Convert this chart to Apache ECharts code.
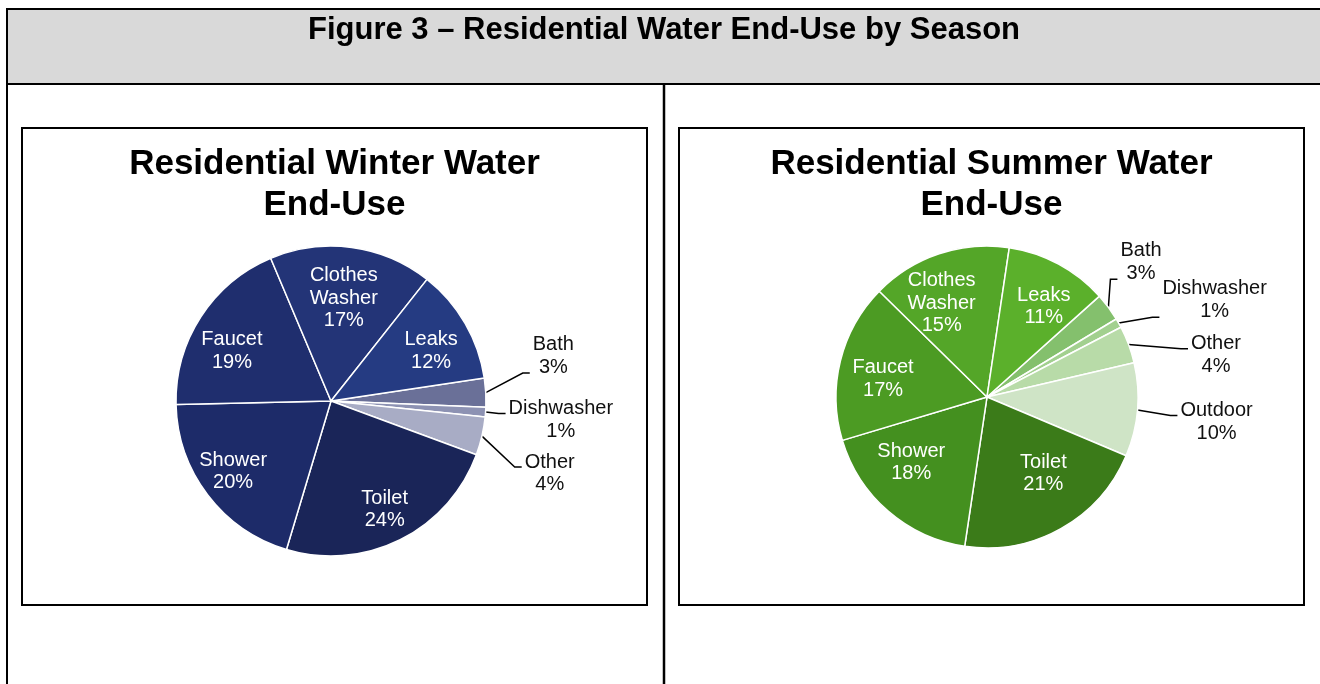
<!DOCTYPE html>
<html>
<head>
<meta charset="utf-8">
<script src="https://cdn.jsdelivr.net/npm/echarts@6/dist/echarts.min.js"></script>
<style>
  html, body { margin: 0; padding: 0; background: #fff; }
  #chart { width: 1320px; height: 684px; }
</style>
</head>
<body>
<div id="chart"></div>
<script>
// ---- Data ----
const figureTitle = 'Figure 3 \u2013 Residential Water End-Use by Season';
const winterTitle = 'Residential Winter Water\nEnd-Use';
const summerTitle = 'Residential Summer Water\nEnd-Use';

const winterCategories = ['Bath', 'Dishwasher', 'Other', 'Toilet', 'Shower', 'Faucet', 'Clothes Washer', 'Leaks'];
const winterValues = [3, 1, 4, 24, 20, 19, 17, 12];
const winterOutside = ['Bath', 'Dishwasher', 'Other'];

const summerCategories = ['Bath', 'Dishwasher', 'Other', 'Outdoor', 'Toilet', 'Shower', 'Faucet', 'Clothes Washer', 'Leaks'];
const summerValues = [3, 1, 4, 10, 21, 18, 17, 15, 11];
const summerOutside = ['Bath', 'Dishwasher', 'Other', 'Outdoor'];

// ---- Styles / layout tweaks (not data) ----
const winterColors = ['#6a7098', '#8d92b3', '#a8acc5', '#1a2558', '#1d2b69', '#1f2e6e', '#233477', '#253b82'];
const summerColors = ['#84c06d', '#a2d08f', '#b8dba8', '#cfe4c6', '#3b7b19', '#44901f', '#4c9b23', '#54a628', '#5bb02b'];
// nudges of data labels, like Excel's manual label placement
const winterLabelNudge = {
  Bath: [24, -36], Dishwasher: [0, 7], Other: [20, 35],
  'Clothes Washer': [-3, 14], Faucet: [0, 14], Leaks: [-2, 9], Shower: [-4, -1], Toilet: [1, 3]
};
const summerLabelNudge = {
  Bath: [-9, -39], Dishwasher: [22, -18], Other: [40, 14], Outdoor: [20, 11],
  'Clothes Washer': [-12, 6], Leaks: [7, 2], Faucet: [-2, 7], Shower: [-7, -14], Toilet: [5, -15]
};

const FONT = '"Liberation Sans", Arial, sans-serif';
const LABEL_SIZE = 20;
const LABEL_LH = 22.5;

function buildData(cats, vals, colors, outsideList, inside) {
  return cats.map((name, i) => {
    const isOut = outsideList.indexOf(name) >= 0;
    const showLabel = inside ? !isOut : isOut;
    return {
      name: name,
      value: vals[i],
      itemStyle: inside
        ? { color: 'rgba(0,0,0,0)', borderWidth: 0 }
        : { color: colors[i], borderColor: '#ffffff', borderWidth: 1.5 },
      label: { show: showLabel },
      labelLine: { show: !inside && isOut }
    };
  });
}

function mainSeries(cats, vals, colors, outsideList, nudge, center, radius, startAngle) {
  return {
    type: 'pie',
    center: center,
    radius: [0, radius],
    startAngle: startAngle,
    clockwise: true,
    avoidLabelOverlap: false,
    silent: true,
    data: buildData(cats, vals, colors, outsideList, false),
    label: {
      position: 'outside',
      formatter: p => '{t|' + p.name + '}\n{t|' + p.value + '%}',
      rich: {
        t: { align: 'center', fontSize: LABEL_SIZE, lineHeight: LABEL_LH, color: '#111', fontFamily: FONT }
      }
    },
    labelLine: {
      length: 10,
      length2: 8,
      smooth: false,
      lineStyle: { color: '#000', width: 1.5 }
    },
    labelLayout: function (params) {
      const n = nudge[cats[params.dataIndex]];
      const pts = params.labelLinePoints;
      if (!n || !pts) return {};
      const r = params.labelRect;
      const left = r.x + n[0];
      const top = r.y + n[1];
      const h = r.height;
      const p0 = pts[0];
      const attachY = Math.min(Math.max(p0[1], top + 0.35 * h), top + 0.9 * h);
      const end = [left - 3, attachY];
      const mid = [end[0] - 7, attachY];
      return { dx: n[0], dy: n[1], labelLinePoints: [p0, mid, end] };
    }
  };
}

function labelSeries(cats, vals, outsideList, nudge, center, r0, radius, startAngle) {
  return {
    type: 'pie',
    center: center,
    radius: [r0, radius],
    startAngle: startAngle,
    clockwise: true,
    silent: true,
    avoidLabelOverlap: false,
    z: 5,
    data: buildData(cats, vals, null, outsideList, true),
    label: {
      position: 'inside',
      formatter: p => p.name.split(' ').join('\n') + '\n' + p.value + '%',
      color: '#ffffff',
      fontSize: LABEL_SIZE,
      lineHeight: LABEL_LH,
      fontFamily: FONT
    },
    labelLine: { show: false },
    labelLayout: function (params) {
      const n = nudge[cats[params.dataIndex]];
      return n ? { dx: n[0], dy: n[1] } : {};
    }
  };
}

const chart = echarts.init(document.getElementById('chart'), null, { renderer: 'canvas' });

const option = {
  backgroundColor: '#ffffff',
  animation: false,
  graphic: [
    { type: 'rect', z: 0, shape: { x: 7, y: 9, width: 1330, height: 75 },
      style: { fill: '#d9d9d9', stroke: '#000', lineWidth: 2 } },
    { type: 'line', z: 0, shape: { x1: 7, y1: 84, x2: 7, y2: 690 },
      style: { stroke: '#000', lineWidth: 2 } },
    { type: 'line', z: 0, shape: { x1: 664, y1: 84, x2: 664, y2: 690 },
      style: { stroke: '#000', lineWidth: 2.5 } },
    { type: 'rect', z: 0, shape: { x: 22, y: 128, width: 625, height: 477 },
      style: { fill: 'none', stroke: '#000', lineWidth: 2 } },
    { type: 'rect', z: 0, shape: { x: 679, y: 128, width: 625, height: 477 },
      style: { fill: 'none', stroke: '#000', lineWidth: 2 } },
    { type: 'text', z: 1, x: 664, y: 30,
      style: { text: figureTitle, fill: '#000', font: 'bold 31px ' + FONT,
               textAlign: 'center', textVerticalAlign: 'middle' } },
    { type: 'text', z: 1, x: 334.5, y: 185,
      style: { text: winterTitle, fill: '#000', font: 'bold 35px ' + FONT, lineHeight: 41,
               textAlign: 'center', textVerticalAlign: 'middle' } },
    { type: 'text', z: 1, x: 991.5, y: 185,
      style: { text: summerTitle, fill: '#000', font: 'bold 35px ' + FONT, lineHeight: 41,
               textAlign: 'center', textVerticalAlign: 'middle' } }
  ],
  series: [
    mainSeries(winterCategories, winterValues, winterColors, winterOutside, winterLabelNudge, [331, 401], 155, 8.5),
    labelSeries(winterCategories, winterValues, winterOutside, winterLabelNudge, [331, 401], 75, 155, 8.5),
    mainSeries(summerCategories, summerValues, summerColors, summerOutside, summerLabelNudge, [987, 397], 151, 41.9),
    labelSeries(summerCategories, summerValues, summerOutside, summerLabelNudge, [987, 397], 53, 151, 41.9)
  ]
};

chart.setOption(option);
</script>
</body>
</html>
